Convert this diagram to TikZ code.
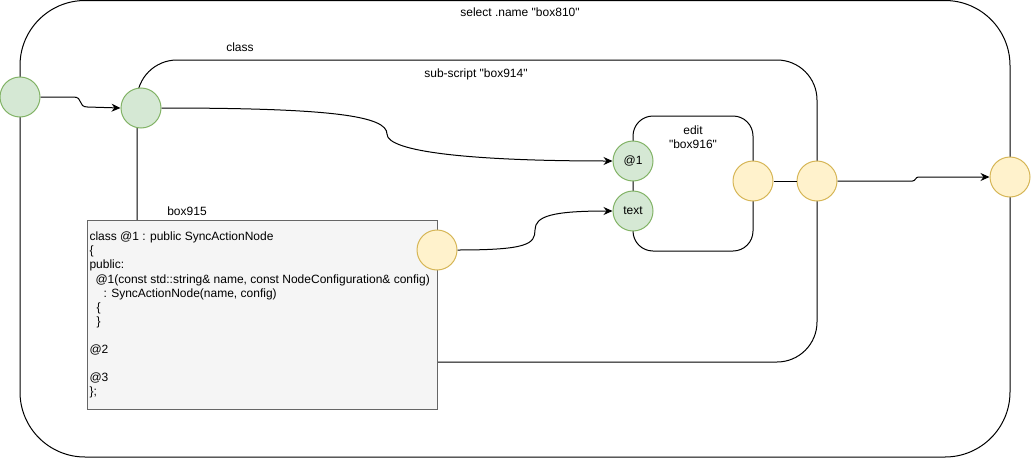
\documentclass[tikz,border=0pt]{standalone}
\usepackage{fontspec}
\setmainfont{Liberation Sans}[Ligatures=TeXOff]
\usetikzlibrary{arrows.meta}
\definecolor{gfill}{HTML}{D5E8D4}
\definecolor{gline}{HTML}{82B366}
\definecolor{yfill}{HTML}{FFF2CC}
\definecolor{yline}{HTML}{D6B656}
\definecolor{codefill}{HTML}{F5F5F5}
\definecolor{codeline}{HTML}{666666}
\begin{document}
\begin{tikzpicture}[x=1pt,y=-1pt,line width=1pt,
  font=\fontsize{12}{14}\selectfont,
  frame/.style={draw=black,line width=1pt},
  gport/.style={circle,draw=gline,fill=gfill,minimum size=40pt,inner sep=0pt,line width=1pt},
  yport/.style={circle,draw=yline,fill=yfill,minimum size=40pt,inner sep=0pt,line width=1pt},
  lbl/.style={inner sep=0pt},
  conn/.style={draw=black,line width=1pt},
  arr/.style={conn,-{Stealth[length=9pt,width=8pt,inset=3pt]}}]
\useasboundingbox (0,0) rectangle (1031,458);
% frames
\draw[frame,rounded corners=65pt] (20,0.5) rectangle (1010,457);
\draw[frame,rounded corners=40pt] (137,60) rectangle (817,362);
\draw[frame,rounded corners=20pt] (633,116) rectangle (753,251);
% labels
\node[lbl] (lselect) at (520,12) {select .name "box810"};
\node[lbl] (lclass) at (240,47) {class};
\node[lbl] (lsub) at (476,74) {sub-script "box914"};
\node[lbl,align=center] (ledit) at (693,137) {edit\\"box916"};
\node[lbl] (lbox915) at (187,211) {box915};
% code box
\node[draw=codeline,fill=codefill,line width=1pt,minimum width=350pt,minimum height=189pt,inner sep=0pt] (code) at (262,314.5) {};
\node[lbl,anchor=north west,align=left,font=\fontsize{12}{14.1}\selectfont] (codetext) at (89,231.5) {%
class @1 : public SyncActionNode\\
\{\\
public:\\
\hspace*{6pt}@1(const std::string\& name, const NodeConfiguration\& config)\\
\hspace*{14pt}: SyncActionNode(name, config)\\
\hspace*{7pt}\{\\
\hspace*{7pt}\}\\
\mbox{}\\
@2\\
\mbox{}\\
@3\\
\};};
% ports
\node[gport] (g1) at (20,97) {};
\node[gport] (g2) at (141,108) {};
\node[gport] (at1) at (633,161) {@1};
\node[gport] (txt) at (633,211) {text};
\node[yport] (ye) at (753,181) {};
\node[yport] (yc) at (817,181) {};
\node[yport] (yo) at (1010,177) {};
\node[yport] (yb) at (437,250) {};
% connectors
\coordinate (m1) at (387,134);
\coordinate (m2) at (535,230);
\draw[arr] (g1.east) -- ++(33,0) .. controls +(10,0) and +(-10,0) .. ++(14,10) -- (g2.west);
\draw[arr] (g2.east) .. controls +(170,0) and +(0,-18) .. (m1) .. controls +(0,18) and +(-140,0) .. (at1.west);
\draw[arr] (yb.east) .. controls +(70,0) and +(0,14) .. (m2) .. controls +(0,-14) and +(-60,0) .. (txt.west);
\draw[conn] (ye.east) -- (yc.west);
\draw[arr] (yc.east) -- ++(75,0) .. controls +(3,0) and +(-3,0) .. ++(6,-4) -- (yo.west);
\end{tikzpicture}
\end{document}
